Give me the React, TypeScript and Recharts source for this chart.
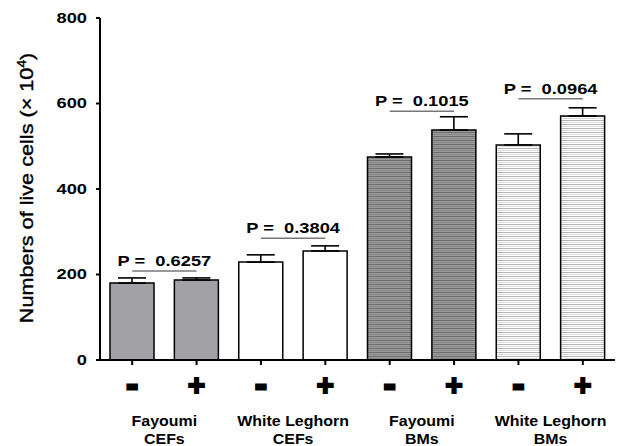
import React from 'react'
import { BarChart, Bar, XAxis, YAxis, Cell, ErrorBar, ReferenceLine } from 'recharts'

const ids = ['FC-', 'FC+', 'WC-', 'WC+', 'FB-', 'FB+', 'WB-', 'WB+']
const signs = ['-', '+', '-', '+', '-', '+', '-', '+']
const groupTop = ['Fayoumi', 'White Leghorn', 'Fayoumi', 'White Leghorn']
const groupBottom = ['CEFs', 'CEFs', 'BMs', 'BMs']
const means = [180, 187, 229, 255, 475, 538, 503, 571]
const errors = [12, 5, 17, 12, 7, 31, 26, 19]
const pValues = ['0.6257', '0.3804', '0.1015', '0.0964']
const pLineY = [208, 285, 582, 611]
const yTicks = [0, 200, 400, 600, 800]

const data = ids.map((id, i) => ({ id, value: means[i], err: [0, errors[i]] }))

const fills = ['#a2a2a6', '#a2a2a6', '#ffffff', '#ffffff', 'url(#darkStripe)', 'url(#darkStripe)', 'url(#lightStripe)', 'url(#lightStripe)']
const FONT = 'Liberation Sans, Arial, sans-serif'
const SX = 1.22

const YTick = ({ x, y, payload }: any) => (
    <text transform={`translate(${x},${y}) scale(${SX},1)`} textAnchor='end' dominantBaseline='central'
        fontFamily={FONT} fontWeight='bold' fontSize={15} fill='#000'>{payload.value}</text>
)

const XTick = ({ x, y, index }: any) => (
    <g>
        <text x={x} y={y + 17} textAnchor='middle' dominantBaseline='central' fontFamily={FONT}
            fontWeight='bold' fontSize={index % 2 ? 30 : 34} fill='#000' stroke='#000' strokeWidth={index % 2 ? 1.8 : 3}>{signs[index]}</text>
        {index % 2 === 1 && (
            <g transform={`translate(${x - 32.2},0) scale(1.14,1)`} fontFamily={FONT} fontWeight='bold' fontSize={14} fill='#000' textAnchor='middle'>
                <text x={0} y={426}>{groupTop[(index - 1) / 2]}</text>
                <text x={0} y={444}>{groupBottom[(index - 1) / 2]}</text>
            </g>
        )}
    </g>
)

const pLabel = (text: string) => (props: any) => {
    const vb = props.viewBox || {}
    const cx = (vb.x ?? 0) + (vb.width ?? 0) / 2
    const cy = vb.y ?? 0
    return (
        <text transform={`translate(${cx},${cy - 5}) scale(${SX},1)`} textAnchor='middle' fontFamily={FONT}
            fontWeight='bold' fontSize={15} fill='#000' style={{ whiteSpace: 'pre' }}>{`P =  ${text}`}</text>
    )
}

const YLabel = () => (
    <text transform='translate(33,188) rotate(-90) scale(1.14,1)' textAnchor='middle' fontFamily={FONT}
        fontSize={19} fill='#000' stroke='#000' strokeWidth={0.4}>
        Numbers of live cells (× 10<tspan dy={-7} fontSize={12}>4</tspan><tspan dy={7}>)</tspan>
    </text>
)

export default function App() {
    return (
        <div>
            <style>{'body{margin:0}'}</style>
            <BarChart width={618} height={446} data={data} margin={{ top: 18, right: 3, bottom: 6, left: 40 }}>
                <defs>
                    <pattern id='darkStripe' width={8} height={4} patternUnits='userSpaceOnUse'>
                        <rect width={8} height={4} fill='#9c9c9c' />
                        <rect y={0} width={8} height={1} fill='#6c6c6c' />
                        <rect y={2} width={8} height={1} fill='#858585' />
                    </pattern>
                    <pattern id='lightStripe' width={8} height={4} patternUnits='userSpaceOnUse'>
                        <rect width={8} height={4} fill='#ffffff' />
                        <rect y={0} width={8} height={1} fill='#b4b4b4' />
                        <rect y={2} width={8} height={1} fill='#dcdcdc' />
                    </pattern>
                </defs>
                <XAxis dataKey='id' height={80} interval={0} tick={<XTick />}
                    axisLine={{ stroke: '#000', strokeWidth: 2 }} tickLine={{ stroke: '#000', strokeWidth: 2 }} tickSize={5} />
                <YAxis width={60} domain={[0, 800]} ticks={yTicks} tick={<YTick />} tickMargin={9} tickSize={4}
                    axisLine={{ stroke: '#000', strokeWidth: 2 }} tickLine={{ stroke: '#000', strokeWidth: 2 }}
                    label={<YLabel />} />
                <Bar dataKey='value' barSize={44} stroke='#000' strokeWidth={1.5} isAnimationActive={false}>
                    {data.map((d, i) => <Cell key={d.id} fill={fills[i]} />)}
                    <ErrorBar dataKey='err' direction='y' width={14} stroke='#000' strokeWidth={1.6} isAnimationActive={false} />
                </Bar>
                {pValues.map((p, g) => (
                    <ReferenceLine key={p} segment={[{ x: ids[g * 2], y: pLineY[g] }, { x: ids[g * 2 + 1], y: pLineY[g] }]}
                        stroke='#777' strokeWidth={1.5} label={pLabel(p)} />
                ))}
            </BarChart>
        </div>
    )
}
